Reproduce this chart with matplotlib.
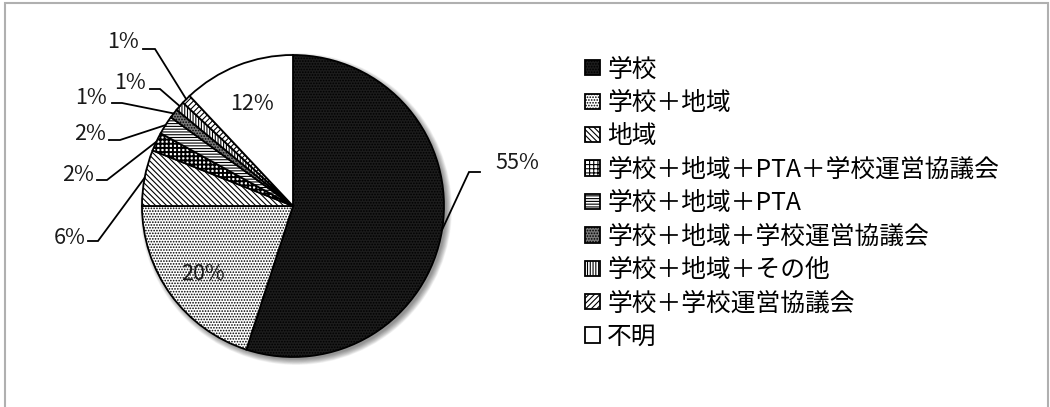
import matplotlib
matplotlib.use("Agg")
import numpy as np
import matplotlib.pyplot as plt
from matplotlib.patches import Circle, Rectangle

plt.rcParams['font.family'] = ['Noto Sans CJK JP', 'DejaVu Sans']
plt.rcParams['hatch.linewidth'] = 0.8

# ---- data -------------------------------------------------------------
categories = ["学校", "学校＋地域", "地域", "学校＋地域＋PTA＋学校運営協議会",
              "学校＋地域＋PTA", "学校＋地域＋学校運営協議会", "学校＋地域＋その他",
              "学校＋学校運営協議会", "不明"]
shares = [55, 20, 6, 2, 2, 1, 1, 1, 12]

# ---- styling ----------------------------------------------------------
# (face colour, hatch pattern, hatch colour, hatch line width) per slice
fills = [
    ("#1c1c1c", "." * 6, "#5c5c5c", 0.8),
    ("#ffffff", "." * 6, "#a0a0a0", 0.8),
    ("#ffffff", "\\" * 6, "#000000", 0.8),
    ("#ffffff", "+" * 4, "#000000", 1.4),
    ("#ffffff", "-" * 6, "#000000", 0.8),
    ("#7a7a7a", "." * 6, "#4a4a4a", 0.8),
    ("#ffffff", "|" * 6, "#000000", 0.8),
    ("#ffffff", "/" * 6, "#000000", 0.8),
    ("#ffffff", "", "#000000", 0.8),
]

W, H = 1050, 407
CX, CY, R = 293, H - 206, 151

# label placement in pixel space (x, y measured from the top):
# None -> label inside the slice; otherwise (text_x, text_y, elbow_x, elbow_y, end_x)
label_layout = [
    (517, 163, 469, 172, 480),
    None,
    (70, 238, 98, 241, 88),
    (78, 175, 107, 180, 97),
    (90, 134, 120, 140, 109),
    (91, 98, 122, 103, 112),
    (130, 83, 160, 89, 150),
    (123, 42, 155, 49, 143),
    None,
]

fig = plt.figure(figsize=(W / 100, H / 100), dpi=100)
ax = fig.add_axes([0, 0, 1, 1])

# soft drop shadow under the pie
for k in range(14):
    ax.add_patch(Circle((CX + 3, CY - 3), R + 5 - k * 0.45, facecolor="black",
                        edgecolor="none", alpha=0.035, zorder=0))

wedges, _ = ax.pie(shares, startangle=90, counterclock=False, center=(CX, CY),
                   radius=R, wedgeprops=dict(edgecolor="black", linewidth=1.3))
for w, (fc, hatch, hc, hlw) in zip(wedges, fills):
    w.set_facecolor(fc)
    w.set_zorder(2)
    if hatch:
        w.set_hatch(hatch)
        if hasattr(w, "set_hatchcolor"):
            w.set_hatchcolor(hc)
        if hasattr(w, "set_hatch_linewidth"):
            w.set_hatch_linewidth(hlw)

# percentage labels
for w, v, lay in zip(wedges, shares, label_layout):
    mid = np.deg2rad((w.theta1 + w.theta2) / 2)
    if lay is None:
        r = 0.74 * R
        ax.text(CX + r * np.cos(mid), CY + r * np.sin(mid) - 2, f"{v}%",
                ha="center", va="center", fontsize=15.5, color="#1a1a1a", zorder=5)
    else:
        tx, ty, ex, ey, hx = lay
        px, py = CX + R * np.cos(mid), CY + R * np.sin(mid)
        ax.plot([px, ex, hx], [py, H - ey, H - ey], color="black", lw=1.3,
                solid_joinstyle="miter", zorder=4)
        ax.text(tx, H - ty, f"{v}%", ha="center", va="center", fontsize=15.5,
                color="#1a1a1a", zorder=5)

ax.set_xlim(0, W)
ax.set_ylim(0, H)
ax.set_axis_off()

ax.legend(wedges, categories, loc="upper left",
          bbox_to_anchor=(585 / W, (H - 56.5) / H), frameon=False, fontsize=17.8,
          handlelength=0.6, handleheight=0.58, handletextpad=0.3,
          labelspacing=0.30, borderpad=0, borderaxespad=0)

# thin grey frame around the chart area
fig.add_artist(Rectangle((4.5 / W, -0.1), (1048 - 4.5) / W, 1 - 2.5 / H + 0.1,
                         transform=fig.transFigure, fill=False,
                         edgecolor="#b0b0b0", linewidth=1.5))

fig.savefig("out.png", dpi=100)
